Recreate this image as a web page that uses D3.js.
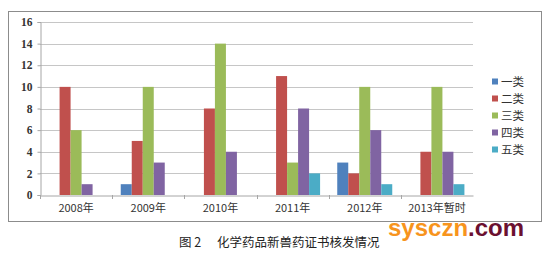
<!DOCTYPE html>
<html>
<head>
<meta charset="utf-8">
<script src="https://cdn.jsdelivr.net/npm/d3@7"></script>
<style>
  body { margin: 0; background: #fff; }
</style>
</head>
<body>
<div id="chartdiv"></div>
<script>
/* --- data --- */
let years = ["2008年", "2009年", "2010年", "2011年", "2012年", "2013年暂时"]
let seriesNames = ["一类", "二类", "三类", "四类", "五类"]
let class1 = [0, 1, 0, 0, 3, 0]
let class2 = [10, 5, 8, 11, 2, 4]
let class3 = [6, 10, 14, 3, 10, 10]
let class4 = [1, 3, 4, 8, 6, 4]
let class5 = [0, 0, 0, 2, 1, 1]
let yTicks = [0, 2, 4, 6, 8, 10, 12, 14, 16]
let colors = ["#4F81BD", "#C0504D", "#9BBB59", "#8064A2", "#4BACC6"]
let allSeries = [class1, class2, class3, class4, class5]

let width = 551
let height = 253
let plotLeft = 40
let plotRight = 473
let plotTop = 22
let plotBottom = 195

let svg = d3.select("#chartdiv")
  .append("svg")
  .attr("width", width)
  .attr("height", height)

// outer frame
svg.append("rect")
  .attr("x", 8.5).attr("y", 11.5)
  .attr("width", 533).attr("height", 210)
  .attr("fill", "none")
  .attr("stroke", "#8c8c8c")
  .attr("stroke-width", 1)

let xscale = d3.scaleBand()
  .domain(years)
  .range([plotLeft, plotRight])
let inner = d3.scaleBand()
  .domain(seriesNames)
  .range([0, xscale.bandwidth()])
  .paddingOuter(0.78)
let yscale = d3.scaleLinear()
  .domain([0, 16])
  .range([plotBottom, plotTop])

// gridlines
svg.append("g")
  .selectAll("line")
  .data(yTicks.slice(1))
  .join("line")
  .attr("x1", plotLeft).attr("x2", plotRight)
  .attr("y1", d => Math.round(yscale(d)) + 0.5)
  .attr("y2", d => Math.round(yscale(d)) + 0.5)
  .attr("stroke", "#c6c6c6")

// y axis
let y_axis = d3.axisLeft(yscale).tickValues(yTicks).tickSize(3).tickPadding(5)
let gy = svg.append("g")
  .attr("transform", `translate(${plotLeft + 0.5},0)`)
  .call(y_axis)
gy.select(".domain").attr("stroke", "#a6a6a6")
gy.selectAll(".tick line").attr("stroke", "#a6a6a6")
gy.selectAll("text")
  .attr("font-family", "'Liberation Serif', 'DejaVu Serif', serif")
  .attr("font-size", 11.5)
  .attr("font-weight", "bold")
  .attr("fill", "#333")

// bars
seriesNames.forEach((name, si) => {
  svg.append("g")
    .selectAll("rect")
    .data(allSeries[si])
    .join("rect")
    .attr("x", (d, i) => xscale(years[i]) + inner(name))
    .attr("y", d => yscale(d))
    .attr("width", inner.bandwidth())
    .attr("height", d => plotBottom - yscale(d))
    .attr("fill", colors[si])
})

// x axis
let x_axis = d3.axisBottom(xscale).tickSize(0).tickPadding(9)
let gx = svg.append("g")
  .attr("transform", `translate(0,${plotBottom + 0.5})`)
  .call(x_axis)
gx.select(".domain").attr("stroke", "#a6a6a6")
gx.selectAll("text")
  .attr("font-family", "'Noto Sans CJK SC', sans-serif")
  .attr("font-size", 11)
  .attr("fill", "#333")
// category separators
svg.append("g")
  .selectAll("line")
  .data(years)
  .join("line")
  .attr("x1", d => Math.round(xscale(d)) + 0.5)
  .attr("x2", d => Math.round(xscale(d)) + 0.5)
  .attr("y1", plotBottom)
  .attr("y2", plotBottom + 4)
  .attr("stroke", "#a6a6a6")

// legend
let legend = svg.append("g").attr("transform", "translate(492,82)")
seriesNames.forEach((name, i) => {
  let g = legend.append("g").attr("transform", `translate(0,${i * 17})`)
  g.append("rect")
    .attr("x", 0).attr("y", -3.5)
    .attr("width", 6).attr("height", 6)
    .attr("fill", colors[i])
  g.append("text")
    .attr("x", 9).attr("y", 0)
    .attr("dy", "0.35em")
    .attr("font-family", "'Noto Sans CJK SC', sans-serif")
    .attr("font-size", 11.5)
    .attr("fill", "#333")
    .text(name)
})

// caption
svg.append("text")
  .attr("x", 179).attr("y", 247)
  .attr("font-family", "'Noto Sans CJK SC', sans-serif")
  .attr("font-size", 12.5)
  .attr("fill", "#222")
  .text("图 2")
svg.append("text")
  .attr("x", 217).attr("y", 247)
  .attr("font-family", "'Noto Sans CJK SC', sans-serif")
  .attr("font-size", 12.5)
  .attr("fill", "#222")
  .text("化学药品新兽药证书核发情况")

// watermark
let wm = svg.append("text")
  .attr("x", 388).attr("y", 236)
  .attr("font-family", "'Liberation Sans', Arial, sans-serif")
  .attr("font-size", 24)
  .attr("font-weight", "bold")
wm.append("tspan").attr("fill", "#F7941D").text("sysczn")
wm.append("tspan").attr("fill", "#6B1030").text(".com")
</script>
</body>
</html>
